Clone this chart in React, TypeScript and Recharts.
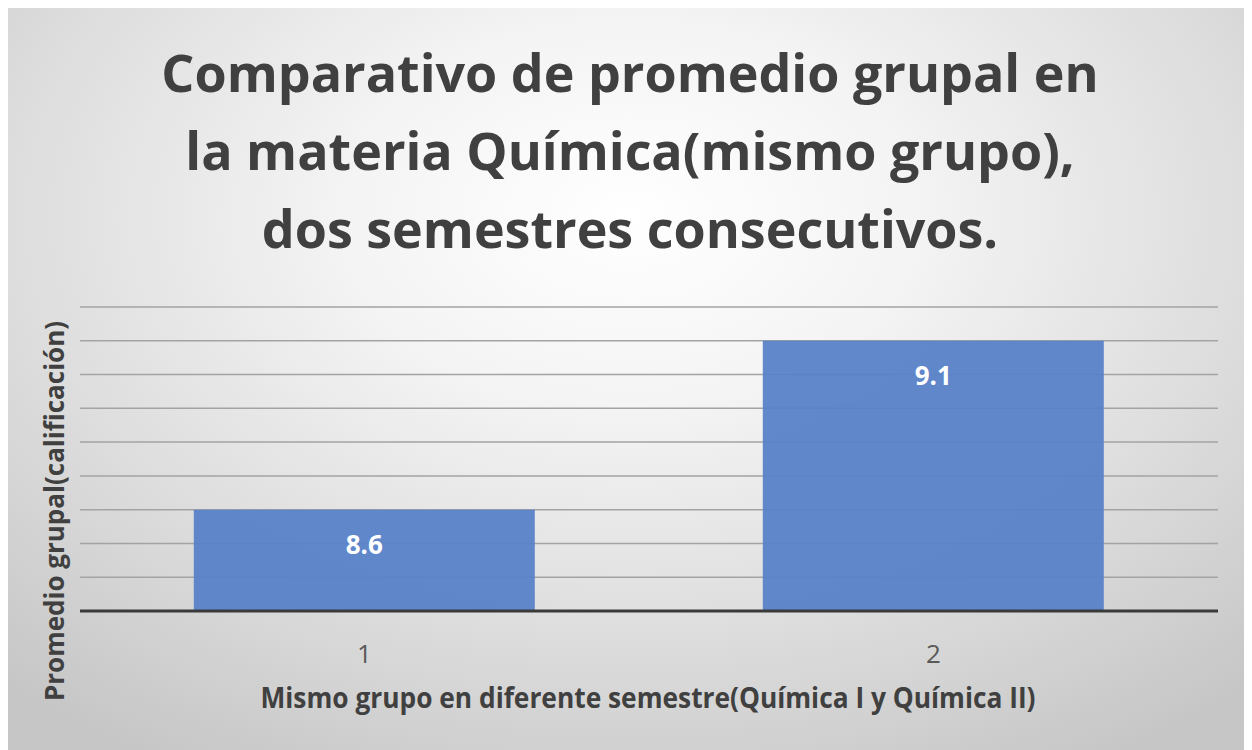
import { BarChart, Bar, XAxis, YAxis, CartesianGrid, LabelList } from 'recharts';

const categories = ['1', '2'];
const promedios = [8.6, 9.1];
const yTicks = [8.3, 8.4, 8.5, 8.6, 8.7, 8.8, 8.9, 9.0, 9.1, 9.2];

const data = categories.map((c, i) => ({ grupo: c, promedio: promedios[i] }));

const W = 1244;
const H = 742;

function BarValue(props: { x?: number; y?: number; width?: number; value?: number }) {
  const { x = 0, y = 0, width = 0, value } = props;
  return (
    <text
      x={x + width / 2}
      y={y + 34}
      fill="#ffffff"
      textAnchor="middle"
      dominantBaseline="central"
      fontFamily="'Open Sans', sans-serif"
      fontWeight={700}
      fontSize={26}
    >
      {value}
    </text>
  );
}

export default function App() {
  return (
    <div
      style={{
        position: 'relative',
        width: W,
        height: H,
        background: 'radial-gradient(ellipse 75% 85% at 50% 28%, #ffffff 0%, #f4f4f4 30%, #dedede 65%, #c6c6c6 100%)',
        overflow: 'hidden',
      }}
    >
      <div
        style={{
          position: 'absolute',
          left: 0,
          top: 25,
          width: W,
          textAlign: 'center',
          fontFamily: "'Open Sans', sans-serif",
          fontWeight: 700,
          fontSize: 52,
          lineHeight: '78px',
          color: '#404040',
        }}
      >
        Comparativo de promedio grupal en
        <br />
        la materia Química(mismo grupo),
        <br />
        dos semestres consecutivos.
      </div>
      <div
        style={{
          position: 'absolute',
          left: 46,
          top: 503,
          transform: 'translate(-50%, -50%) rotate(-90deg)',
          whiteSpace: 'nowrap',
          fontFamily: "'Open Sans', sans-serif",
          fontWeight: 700,
          fontSize: 26,
          color: '#404040',
        }}
      >
        Promedio grupal(calificación)
      </div>
      <div
        style={{
          position: 'absolute',
          left: 640,
          top: 689,
          transform: 'translate(-50%, -50%) scaleX(0.94)',
          whiteSpace: 'nowrap',
          fontFamily: "'Open Sans', sans-serif",
          fontWeight: 700,
          fontSize: 28,
          color: '#404040',
        }}
      >
        Mismo grupo en diferente semestre(Química I y Química II)
      </div>
      <BarChart
        width={W}
        height={H}
        data={data}
        margin={{ top: 299, right: 34, left: 72, bottom: 0 }}
        barCategoryGap="20%"
        style={{ position: 'absolute', left: 0, top: 0 }}
      >
        <CartesianGrid vertical={false} stroke="#a3a3a3" strokeWidth={1.5} />
        <YAxis hide domain={[8.3, 9.2]} ticks={yTicks} allowDataOverflow />
        <XAxis
          dataKey="grupo"
          height={139}
          axisLine={{ stroke: '#3a3a3a', strokeWidth: 3 }}
          tickLine={false}
          tickMargin={28}
          tick={{ fill: '#595959', fontSize: 26, fontFamily: "'Open Sans', sans-serif" }}
        />
        <Bar dataKey="promedio" fill="#5881C9" fillOpacity={0.94} isAnimationActive={false}>
          <LabelList dataKey="promedio" content={<BarValue />} />
        </Bar>
      </BarChart>
    </div>
  );
}
